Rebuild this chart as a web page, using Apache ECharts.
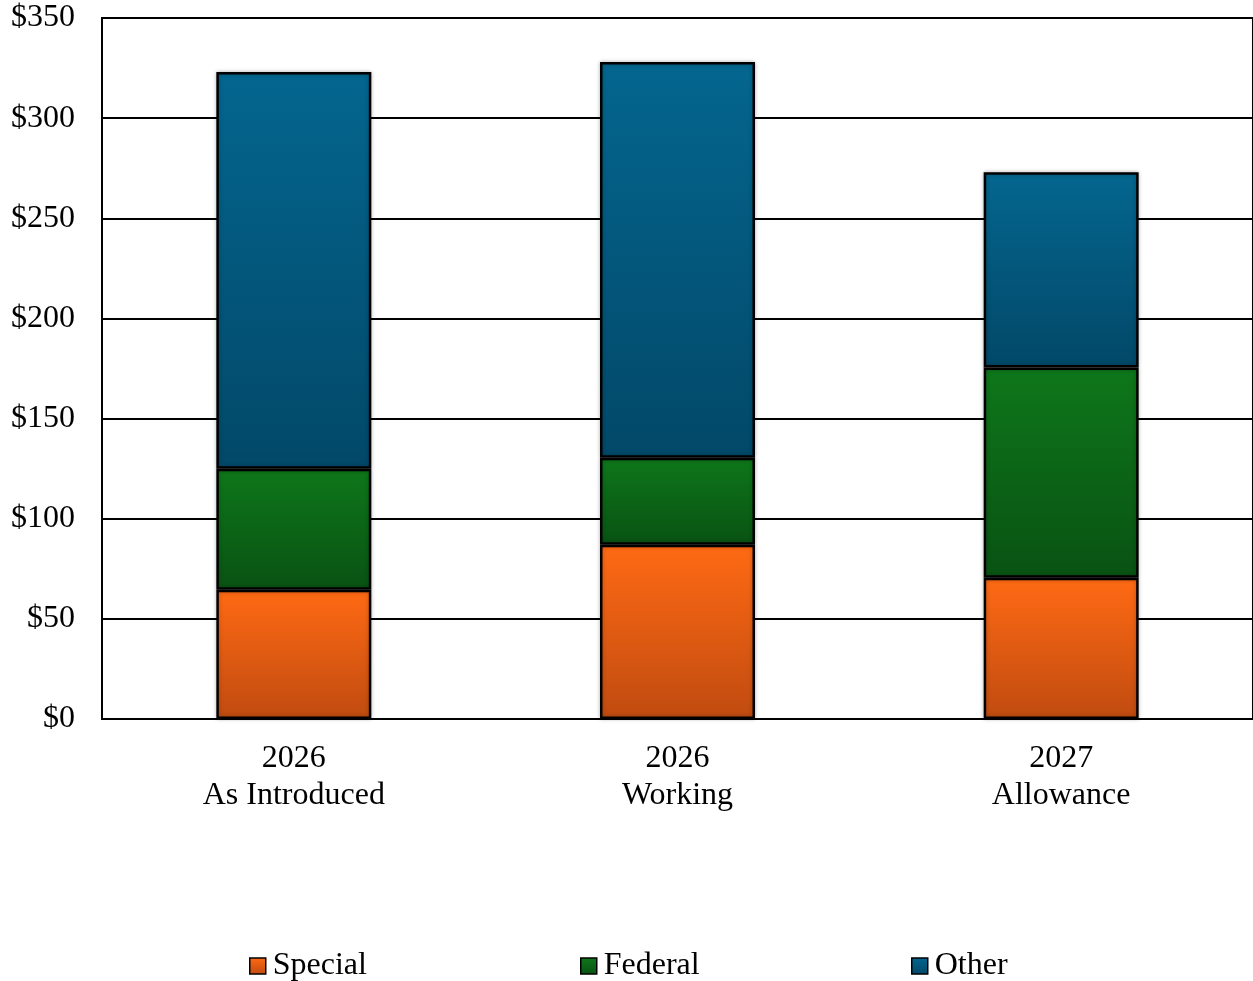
<!DOCTYPE html>
<html>
<head>
<meta charset="utf-8">
<script src="https://cdn.jsdelivr.net/npm/echarts@6/dist/echarts.min.js"></script>
<style>html,body{margin:0;padding:0;background:#fff;}#c{width:1253px;height:981px;}</style>
</head>
<body>
<div id="c"></div>
<script>
const categories = ['2026\nAs Introduced', '2026\nWorking', '2027\nAllowance'];
const special = [64.5, 87, 70.5];
const federal = [60.5, 43.5, 105];
const other = [198, 197.5, 97.5];
const yTicks = [0, 50, 100, 150, 200, 250, 300, 350];

const FONT = '"Liberation Serif", "Times New Roman", serif';
function grad(top, bottom) {
  return new echarts.graphic.LinearGradient(0, 0, 0, 1, [
    {offset: 0, color: top}, {offset: 1, color: bottom}
  ]);
}
const colors = {
  Special: grad('#FF6A14', '#C04B10'),
  Federal: grad('#0E771A', '#095213'),
  Other: grad('#04668F', '#024868')
};
function series(name, data) {
  return {
    name, type: 'bar', stack: 'total', data, barWidth: 155,
    itemStyle: {color: colors[name], borderColor: '#000', borderWidth: 2.5,
      shadowColor: 'rgba(0,0,0,0.25)', shadowBlur: 4},
    emphasis: {disabled: true}
  };
}
function legend(name, left) {
  return {
    data: [name], left, top: 945, itemWidth: 16, itemHeight: 16,
    icon: 'rect', itemGap: 0,
    itemStyle: {borderColor: '#000', borderWidth: 1.5},
    textStyle: {fontFamily: FONT, fontSize: 32, color: '#000', padding: [0,0,0,2]}
  };
}
const chart = echarts.init(document.getElementById('c'));
chart.setOption({
  animation: false,
  grid: {left: 102, right: 0, top: 18, bottom: 262, show: true, borderColor: '#000', borderWidth: 2},
  legend: [legend('Special', 244), legend('Federal', 575), legend('Other', 906)],
  xAxis: {
    type: 'category', data: categories,
    axisLine: {lineStyle: {color: '#000', width: 2}},
    axisTick: {show: false},
    axisLabel: {fontFamily: FONT, fontSize: 32, color: '#000', margin: 21, lineHeight: 37}
  },
  yAxis: {
    type: 'value', min: yTicks[0], max: yTicks[yTicks.length - 1], interval: 50,
    axisLine: {show: true, lineStyle: {color: '#000', width: 2}},
    axisTick: {show: false},
    splitLine: {lineStyle: {color: '#000', width: 2}},
    axisLabel: {fontFamily: FONT, fontSize: 32, color: '#000', margin: 27,
      formatter: v => '$' + v}
  },
  series: [series('Special', special), series('Federal', federal), series('Other', other)]
});
</script>
</body>
</html>
